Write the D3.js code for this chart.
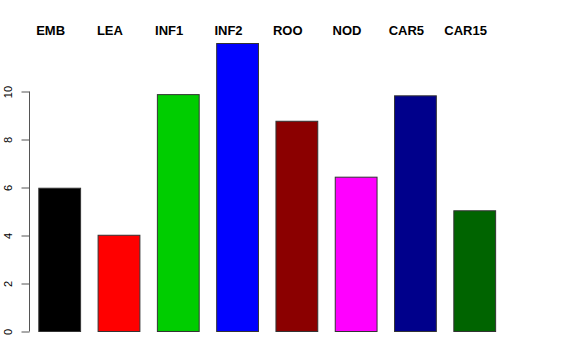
<!DOCTYPE html>
<html><head><meta charset="utf-8">
<script src="https://cdn.jsdelivr.net/npm/d3@7"></script>
<style>body{margin:0;background:#fff}svg{display:block}</style>
</head><body>
<script>
const categories = ["EMB","LEA","INF1","INF2","ROO","NOD","CAR5","CAR15"];
const values = [5.97, 4.01, 9.87, 12.0, 8.76, 6.43, 9.82, 5.03];
const colors = ["#000000","#ff0000","#00cd00","#0000ff","#8b0000","#ff00ff","#00008b","#006400"];
const yTicks = [0,2,4,6,8,10];

const W=576,H=360;
const svg=d3.select("body").append("svg").attr("width",W).attr("height",H);
const step=59.29, bw=41.8, left0=38.3;
const pad=(step-bw)/step;
const x=d3.scaleBand().domain(categories)
 .range([left0-(step-bw)/2, left0-(step-bw)/2+step*categories.length])
 .paddingInner(pad).paddingOuter(pad/2);
const y=d3.scaleLinear().domain([0,10]).range([331,91]);

svg.selectAll("rect.bar").data(categories).join("rect").attr("class","bar")
 .attr("x",d=>x(d)+0.5).attr("y",(d,i)=>y(values[i])+0.5)
 .attr("width",x.bandwidth()).attr("height",(d,i)=>y(0)-y(values[i]))
 .attr("fill",(d,i)=>colors[i]).attr("stroke","#333").attr("stroke-width",1);

const ax=svg.append("g").attr("transform","translate(29.5,0.5)")
 .call(d3.axisLeft(y).tickValues(yTicks).tickSize(8).tickPadding(0).tickFormat(d3.format("d")));
ax.select(".domain").attr("stroke","#555").attr("d",`M0,${y(0)}V${y(10)}`);
ax.selectAll(".tick line").attr("stroke","#555");
ax.selectAll(".tick text").attr("transform","translate(-17.5,0) rotate(-90)").attr("y",0).attr("x",0).attr("dy","0")
 .attr("text-anchor","middle").attr("font-family","Liberation Sans, Arial, sans-serif").attr("font-size",11).attr("fill","#000");

svg.selectAll("text.lab").data(categories).join("text").attr("class","lab")
 .attr("x",d=>x(d)+x.bandwidth()/2-8.6).attr("y",34.5)
 .attr("text-anchor","middle").attr("font-family","Liberation Sans, Arial, sans-serif")
 .attr("font-weight","bold").attr("font-size",13).text(d=>d);
</script>
</body></html>
